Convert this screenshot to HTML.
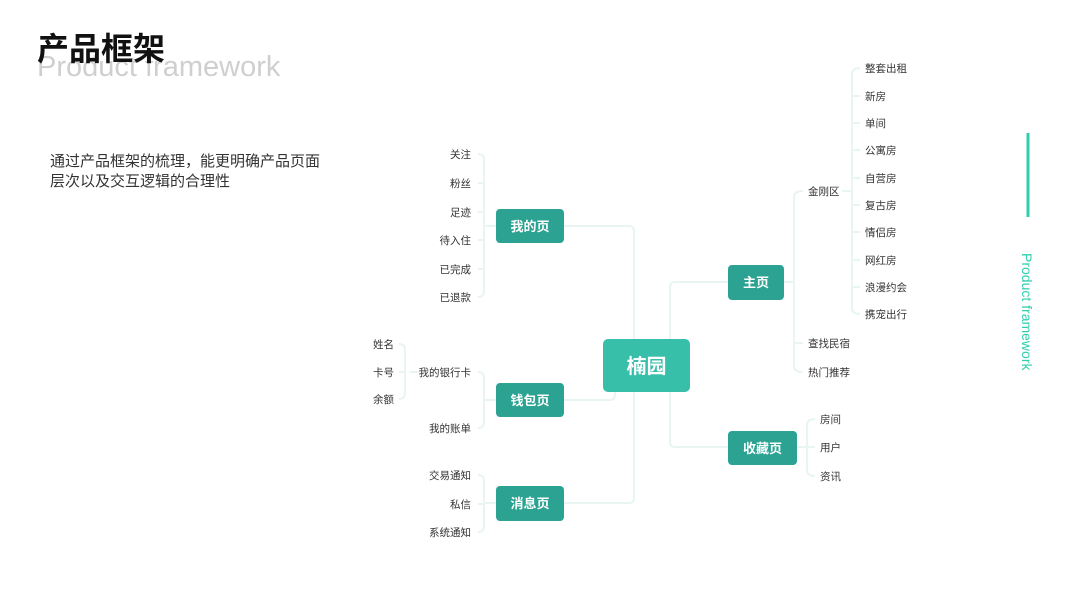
<!DOCTYPE html>
<html><head><meta charset="utf-8"><style>
html,body{margin:0;padding:0;background:#fff;}
body{width:1067px;height:600px;overflow:hidden;position:relative;font-family:"Liberation Sans","Noto Sans CJK SC",sans-serif;}
svg{position:absolute;left:0;top:0;}
</style></head><body>
<svg width="1067" height="600" viewBox="0 0 1067 600" xmlns="http://www.w3.org/2000/svg" font-family="Liberation Sans, Noto Sans CJK SC, sans-serif">
<text x="37" y="76" font-size="29" fill="#cfcfcf">Product framework</text>
<text x="37" y="60" font-size="32" font-weight="bold" fill="#111" font-family="Noto Sans CJK SC, sans-serif">产品框架</text>
<text x="50" y="166" font-size="15" fill="#333">通过产品框架的梳理，能更明确产品页面</text>
<text x="50" y="186" font-size="15" fill="#333">层次以及交互逻辑的合理性</text>

<line x1="1028" y1="133" x2="1028" y2="217" stroke="#2fcfae" stroke-width="3"/>
<text transform="translate(1022,253) rotate(90)" font-size="14" fill="#2fcfae">Product framework</text>

<g fill="none" stroke="#e8f5f2" stroke-width="2">
<path d="M564 226 H629 Q634 226 634 231 V498 Q634 503 629 503 H564"/>
<path d="M564 400 H610 Q615 400 615 395 V392"/>
<path d="M728 282 H675 Q670 282 670 287 V442 Q670 447 675 447 H728"/>
<path d="M496 226 H484"/>
<path d="M478 154 Q484 154 484 160 V291 Q484 297 478 297"/>
<path d="M478 183 H484 M478 212 H484 M478 240 H484 M478 269 H484"/>
<path d="M496 400 H484"/>
<path d="M478 372 Q484 372 484 378 V422 Q484 428 478 428"/>
<path d="M410 372 H420"/>
<path d="M399 344 Q405 344 405 350 V393 Q405 399 399 399 M399 372 H405"/>
<path d="M496 503 H484"/>
<path d="M478 475 Q484 475 484 481 V526 Q484 532 478 532 M478 504 H484"/>
<path d="M784 282 H794"/>
<path d="M803 191 Q794 191 794 197 V366 Q794 372 803 372 M794 343 H803"/>
<path d="M842 191 H852"/>
<path d="M860 68 Q852 68 852 74 V308 Q852 314 860 314"/>
<path d="M852 96 H860 M852 123 H860 M852 150 H860 M852 178 H860 M852 205 H860 M852 232 H860 M852 260 H860 M852 287 H860"/>
<path d="M797 447 H807"/>
<path d="M815 419 Q807 419 807 425 V470 Q807 476 815 476 M807 447 H815"/>
</g>

<rect x="603" y="339" width="87" height="53" rx="5" fill="#38bfaa"/>
<text x="646.5" y="373" font-size="20" font-weight="bold" fill="#fff" text-anchor="middle">楠园</text>
<g fill="#2ca392">
<rect x="496" y="209" width="68" height="34" rx="4"/>
<rect x="496" y="383" width="68" height="34" rx="4"/>
<rect x="496" y="486" width="68" height="35" rx="4"/>
<rect x="728" y="265" width="56" height="35" rx="4"/>
<rect x="728" y="431" width="69" height="34" rx="4"/>
</g>
<g font-size="13" font-weight="bold" fill="#fff" text-anchor="middle">
<text x="530" y="231">我的页</text>
<text x="530" y="405">钱包页</text>
<text x="530" y="508">消息页</text>
<text x="756" y="287">主页</text>
<text x="762.5" y="453">收藏页</text>
</g>
<g font-size="10.5" fill="#333" text-anchor="end">
<text x="471" y="158">关注</text>
<text x="471" y="187">粉丝</text>
<text x="471" y="216">足迹</text>
<text x="471" y="244">待入住</text>
<text x="471" y="273">已完成</text>
<text x="471" y="301">已退款</text>
<text x="471" y="376">我的银行卡</text>
<text x="471" y="432">我的账单</text>
<text x="471" y="479">交易通知</text>
<text x="471" y="508">私信</text>
<text x="471" y="536">系统通知</text>
</g>
<g font-size="10.5" fill="#333">
<text x="373" y="348">姓名</text>
<text x="373" y="376">卡号</text>
<text x="373" y="403">余额</text>
<text x="808" y="195">金刚区</text>
<text x="808" y="347">查找民宿</text>
<text x="808" y="376">热门推荐</text>
<text x="865" y="72">整套出租</text>
<text x="865" y="100">新房</text>
<text x="865" y="127">单间</text>
<text x="865" y="154">公寓房</text>
<text x="865" y="182">自营房</text>
<text x="865" y="209">复古房</text>
<text x="865" y="236">情侣房</text>
<text x="865" y="264">网红房</text>
<text x="865" y="291">浪漫约会</text>
<text x="865" y="318">携宠出行</text>
<text x="820" y="423">房间</text>
<text x="820" y="451">用户</text>
<text x="820" y="480">资讯</text>
</g>
</svg>
</body></html>
